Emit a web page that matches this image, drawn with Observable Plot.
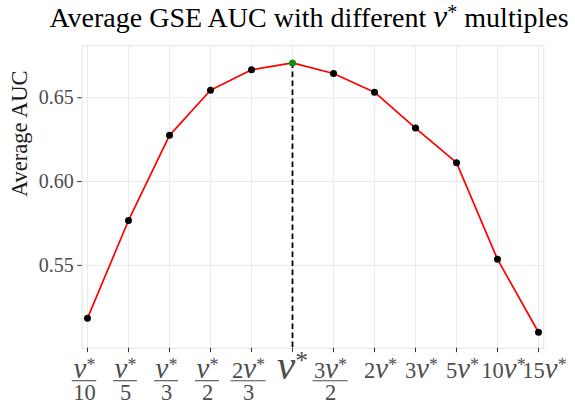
<!DOCTYPE html>
<html>
<head>
<meta charset="utf-8">
<script src="https://cdn.jsdelivr.net/npm/d3@7"></script>
<script src="https://cdn.jsdelivr.net/npm/@observablehq/plot@0.6"></script>
<style>
  html, body { margin: 0; padding: 0; background: #fff; }
  #chart svg { display: block; }
  #chart svg text { font-family: "Liberation Serif", "Times New Roman", serif; }
</style>
</head>
<body>
<div id="chart"></div>
<script>
// ---- data ----
const cats = ["ν*/10","ν*/5","ν*/3","ν*/2","2ν*/3","ν*","3ν*/2","2ν*","3ν*","5ν*","10ν*","15ν*"];
const auc  = [0.5185,0.5768,0.6276,0.6545,0.6667,0.6708,0.6645,0.6533,0.6319,0.6113,0.5536,0.5101];
const tickNum = ["ν*","ν*","ν*","ν*","2ν*","ν*","3ν*","2ν*","3ν*","5ν*","10ν*","15ν*"];
const tickDen = ["10","5","3","2","3","","2","","","","",""];
const yTicks = [0.55, 0.60, 0.65];
const yDomain = [0.5006, 0.6810];
const optimum = "ν*";
const titleText = "Average GSE AUC with different ν* multiples";
const yTitle = "Average AUC";

const rows = cats.map((c, i) => ({cat: c, auc: auc[i], num: tickNum[i], den: tickDen[i]}));
const fracRows = rows.filter(d => d.den);
const inlineRows = rows.filter(d => !d.den && d.num !== "ν*");
const baseRows = rows.filter(d => !d.den && d.num === "ν*");

const W = 575, H = 402;
const mL = 81.7, mR = 31.7, mT = 45.3, mB = 54.3;
const labelColor = "#4d4d4d";
const SERIF = "'Liberation Serif', 'Times New Roman', serif";
const FS = 22.5, FSBIG = 32, FRAC_DX = -3, INLINE_DX = 6;

const plot = Plot.plot({
  width: W, height: H,
  marginLeft: mL, marginRight: mR, marginTop: mT, marginBottom: mB,
  style: {fontFamily: SERIF, background: "white"},
  x: {type: "point", domain: cats, padding: 0.089},
  y: {domain: yDomain},
  marks: [
    Plot.gridX(cats, {stroke: "#ebebeb", strokeOpacity: 1, strokeWidth: 1}),
    Plot.gridY(yTicks, {stroke: "#ebebeb", strokeOpacity: 1, strokeWidth: 1}),
    Plot.frame({stroke: "#e3e3e3", strokeWidth: 1}),
    Plot.axisX(cats, {tickSize: 4.5, tickFormat: () => "", label: null, stroke: "#333"}),
    Plot.axisY(yTicks, {tickSize: 4.5, tickPadding: 4, tickFormat: d3.format(".2f"), label: null,
      stroke: "#333", fill: labelColor, fontSize: 20, fontFamily: SERIF}),
    Plot.ruleX(rows.filter(d => d.cat === optimum), {x: "cat", y1: "auc", y2: yDomain[0],
      stroke: "black", strokeWidth: 1.8, strokeDasharray: "5.5,3.5"}),
    Plot.line(rows, {x: "cat", y: "auc", stroke: "#ff0000", strokeWidth: 1.7}),
    Plot.dot(rows.filter(d => d.cat !== optimum), {x: "cat", y: "auc", r: 3.5, fill: "black", stroke: null}),
    Plot.dot(rows.filter(d => d.cat === optimum), {x: "cat", y: "auc", r: 3.5, fill: "#109010", stroke: null}),
    // text marks (order matters for post-processing)
    Plot.text([titleText], {text: d => d, frameAnchor: "top", dy: 26.7 - mT, dx: -4, fontSize: 28, fill: "black", fontFamily: SERIF}),
    Plot.text([yTitle], {text: d => d, frameAnchor: "left", rotate: -90, dx: 19 - mL, fontSize: 22.5, fill: "#1a1a1a", lineAnchor: "middle", fontFamily: SERIF}),
    Plot.text(fracRows, {x: "cat", text: "num", frameAnchor: "bottom", dy: 29.3, dx: FRAC_DX, fontSize: FS, fill: labelColor, fontFamily: SERIF}),
    Plot.text(fracRows, {x: "cat", text: "den", frameAnchor: "bottom", dy: 51.5, dx: FRAC_DX, fontSize: FS, fill: labelColor, fontFamily: SERIF}),
    Plot.text(inlineRows, {x: "cat", text: "num", frameAnchor: "bottom", dy: 29.3, dx: INLINE_DX, fontSize: FS, fill: labelColor, fontFamily: SERIF}),
    Plot.text(baseRows, {x: "cat", text: "num", frameAnchor: "bottom", dy: 30.5, fontSize: FSBIG, fill: labelColor, fontFamily: SERIF})
  ]
});

document.getElementById("chart").appendChild(plot);

// ---- rich text: italic ν, superscript * ----
const SVGNS = "http://www.w3.org/2000/svg";
function richify(el, fs, baselineFix, nuScale, starScale) {
  const s = el.textContent;
  if (baselineFix) { el.removeAttribute("y"); el.removeAttribute("dy"); }
  if (!/[ν*]/.test(s)) return;
  while (el.firstChild) el.removeChild(el.firstChild);
  const parts = s.match(/ν|\*|[^ν*]+/g) || [];
  let raised = 0;
  for (const p of parts) {
    const t = document.createElementNS(SVGNS, "tspan");
    t.textContent = p;
    if (p === "ν") {
      t.setAttribute("font-style", "italic");
      t.setAttribute("font-size", (fs * nuScale).toFixed(2));
      if (raised) { t.setAttribute("dy", raised); raised = 0; }
    } else if (p === "*") {
      t.setAttribute("font-size", (fs * starScale).toFixed(2));
      t.setAttribute("dy", (-fs * 0.3).toFixed(2));
      raised = (fs * 0.3).toFixed(2);
    } else {
      if (raised) { t.setAttribute("dy", raised); raised = 0; }
    }
    el.appendChild(t);
  }
}

const svg = d3.select(plot.tagName.toLowerCase() === "svg" ? plot : plot.querySelector("svg"));
const textGroups = svg.selectAll('g[aria-label="text"]').nodes();
const sizes = [28, 22.5, FS, FS, FS, FSBIG];
textGroups.forEach((g, gi) => {
  const isYTitle = gi === 1;
  const nuScale = gi === 0 ? 1.12 : 1.28;
  const starScale = gi === 0 ? 0.72 : 0.8;
  g.querySelectorAll("text").forEach(el => richify(el, sizes[gi], !isYTitle, nuScale, starScale));
});

// ---- fraction bars ----
const xs = plot.scale("x");
const numEls = textGroups[2] ? Array.from(textGroups[2].querySelectorAll("text")) : [];
const denEls = textGroups[3] ? Array.from(textGroups[3].querySelectorAll("text")) : [];
const barY = H - mB + 33;
fracRows.forEach((d, i) => {
  const cx = xs.apply(d.cat) + FRAC_DX;
  let w = 24;
  try {
    const w1 = numEls[i].getBBox().width, w2 = denEls[i].getBBox().width;
    w = Math.max(w1, w2) + 2;
  } catch (e) {}
  svg.append("line")
    .attr("x1", cx - w / 2).attr("x2", cx + w / 2)
    .attr("y1", barY).attr("y2", barY)
    .attr("stroke", labelColor).attr("stroke-width", 1.1);
});
</script>
</body>
</html>
